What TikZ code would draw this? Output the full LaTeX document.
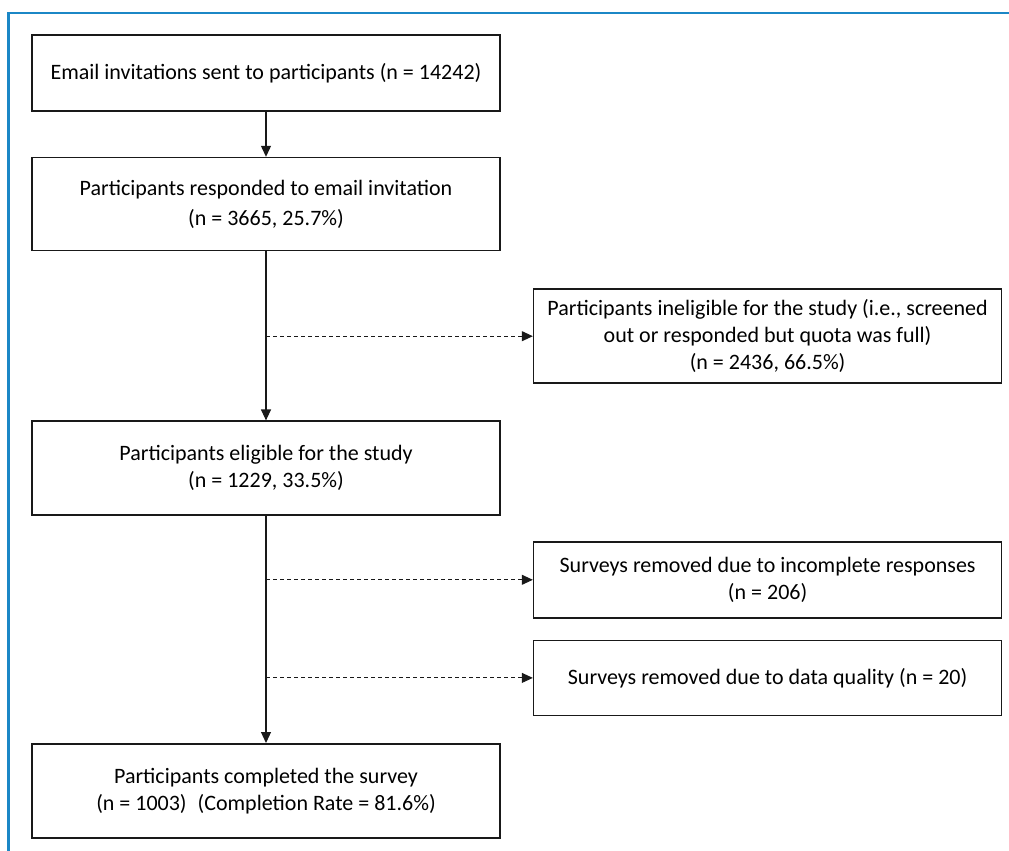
\documentclass[tikz,border=0pt]{standalone}
\usepackage{fontspec}
\setmainfont{Carlito}
\usepackage{tikz}
\usetikzlibrary{positioning, arrows.meta}
\definecolor{framblue}{HTML}{1B87C6}

\tikzset{
	flowbox/.style={rectangle, draw=black!90, line width=1.6pt, align=center, inner sep=0pt, minimum width=468pt},
	flowarrow/.style={-{Triangle[length=11pt,width=10pt]}, line width=1.2pt, black!90},
	sidearrow/.style={flowarrow, line width=1pt, dash pattern=on 4pt off 3pt}
}

\begin{document}
\begin{tikzpicture}[x=1pt, y=1pt, font=\fontsize{22}{27}\selectfont]
		\useasboundingbox (0,0) rectangle (1009,-851);
		\draw[framblue, line width=2.5pt] (8.5,-851) -- (8.5,-13) -- (1009,-13);
		
		\node[flowbox, minimum height=76pt] (invite) at (266,-73) {Email invitations sent to participants (n = 14242)};
		
		\node[flowbox, minimum height=93pt, below = 45pt of invite] (respond) {Participants responded to email invitation\\[3pt](n = 3665, 25.7\%)};
		
		\node[flowbox, minimum height=94pt, below right = 37pt and 32pt of respond.south east] (inelig) {Participants ineligible for the study (i.e., screened\\out or responded but quota was full)\\(n = 2436, 66.5\%)};
		
		\node[flowbox, minimum height=94pt, below = 169pt of respond] (elig) {Participants eligible for the study\\(n = 1229, 33.5\%)};
		
		\node[flowbox, minimum height=76pt, below right = 25pt and 32pt of elig.south east] (incompl) {Surveys removed due to incomplete responses\\(n = 206)};
		
		\node[flowbox, minimum height=75pt, below = 21pt of incompl] (quality) {Surveys removed due to data quality (n = 20)};
		
		\node[flowbox, minimum height=94pt, below = 227pt of elig] (complete) {Participants completed the survey\\(n = 1003)\enspace(Completion Rate = 81.6\%)};
		
		\draw[flowarrow] (invite) -- (respond);
		\draw[flowarrow] (respond) -- (elig);
		\draw[flowarrow] (elig) -- (complete);
		
		\draw[sidearrow] (inelig.west -| elig) -- (inelig.west);
		\draw[sidearrow] (incompl.west -| elig) -- (incompl.west);
		\draw[sidearrow] (quality.west -| elig) -- (quality.west);
		
	\end{tikzpicture}
\end{document}
